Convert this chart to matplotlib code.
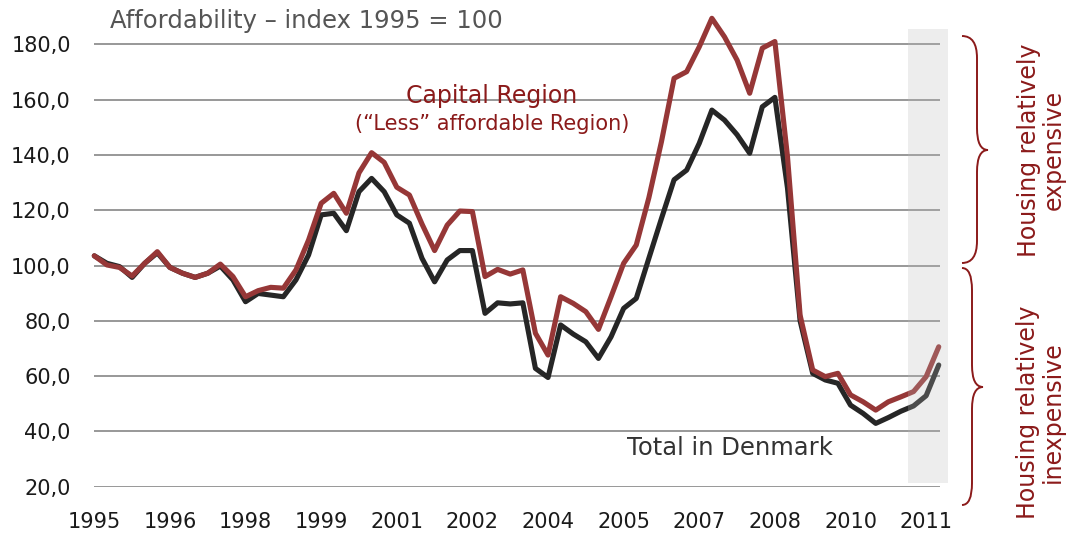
import numpy as np
import matplotlib.pyplot as plt
from matplotlib.path import Path
from matplotlib.patches import PathPatch, Rectangle

# quarterly affordability index, 1995Q1 - 2011Q4 (1995 = 100)
tick_labels = ['1995', '1996', '1998', '1999', '2001', '2002',
               '2004', '2005', '2007', '2008', '2010', '2011']

total_dk = [103.5, 100.8, 99.6, 95.7, 100.8, 104.6, 99.3, 97.2, 95.7, 97.2,
            99.8, 94.8, 86.9, 89.9, 89.3, 88.7, 94.8, 103.8, 118.3, 118.9,
            112.6, 126.7, 131.5, 126.7, 118.3, 115.3, 102.6, 94.1, 102.0, 105.4,
            105.4, 82.7, 86.5, 86.1, 86.5, 62.8, 59.5, 78.5, 75.2, 72.4,
            66.4, 74.2, 84.5, 88.1, 102.6, 117.0, 131.0, 134.5, 144.2, 156.2,
            152.6, 147.3, 140.6, 157.4, 160.8, 128.0, 80.0, 61.0, 58.6, 57.4,
            49.5, 46.5, 42.9, 45.0, 47.3, 49.2, 52.9, 64.0]

capital = [103.5, 100.2, 99.3, 96.2, 100.8, 105.0, 99.3, 97.2, 95.7, 97.2,
           100.5, 96.0, 88.7, 90.9, 92.1, 91.8, 98.4, 109.2, 122.5, 126.1,
           118.9, 133.5, 140.8, 137.3, 128.3, 125.5, 115.0, 105.4, 114.6, 119.7,
           119.5, 96.0, 98.6, 96.9, 98.4, 75.5, 67.6, 88.7, 86.3, 83.3,
           76.9, 88.7, 100.8, 107.4, 124.5, 144.8, 167.7, 170.1, 179.1, 189.4,
           182.7, 174.3, 162.3, 178.6, 181.0, 139.3, 82.0, 62.2, 59.8, 61.0,
           53.2, 50.7, 47.7, 50.7, 52.5, 54.4, 59.8, 70.6]

y_ticks = [20, 40, 60, 80, 100, 120, 140, 160, 180]

W, H = 1067, 533
red = '#963737'
darkred = '#8b1a1a'

fig = plt.figure(figsize=(W / 100, H / 100), dpi=100)
ax = fig.add_axes([94.3 / W, (H - 486.7) / H, 845.7 / W, (486.7 - 16.65) / H])

x = np.arange(len(total_dk))
ax.plot(x, total_dk, color='#262626', lw=3.7, solid_joinstyle='round',
        solid_capstyle='round', clip_on=False, zorder=3)
ax.plot(x, capital, color=red, lw=3.7, solid_joinstyle='round',
        solid_capstyle='round', clip_on=False, zorder=4)

# shaded forecast period, drawn over the lines
ax.add_patch(Rectangle((64.6, 21.2), 3.15, 164.3, facecolor='#bbbbbb',
                       edgecolor='none', alpha=0.25, zorder=5, clip_on=False))

ax.set_xlim(0, 67.1)
ax.set_ylim(20, 190)
ax.set_yticks(y_ticks)
ax.set_yticklabels([f'{v},0' for v in y_ticks])
ax.set_xticks(x[::6])
ax.set_xticklabels(tick_labels)
ax.yaxis.grid(True, color='#909090', lw=1.3)
ax.set_axisbelow(True)
for s in ax.spines.values():
    s.set_visible(False)
ax.tick_params(axis='both', length=0, labelsize=15, colors='#1a1a1a')
ax.tick_params(axis='y', pad=17)
ax.tick_params(axis='x', pad=18)

# overlay in pixel coordinates for text and braces
ov = fig.add_axes([0, 0, 1, 1])
ov.set_xlim(0, W)
ov.set_ylim(H, 0)
ov.axis('off')
ov.patch.set_alpha(0)

ov.text(110, 21, 'Affordability \u2013 index 1995 = 100', fontsize=17.5,
        color='#555555', ha='left', va='center')
ov.text(492, 96, 'Capital Region', fontsize=17, color=darkred,
        ha='center', va='center')
ov.text(492, 124, '(\u201cLess\u201d affordable Region)', fontsize=15,
        color=darkred, ha='center', va='center')
ov.text(730, 448, 'Total in Denmark', fontsize=17.5, color='#333333',
        ha='center', va='center')


def brace(x0, x1, x2, yt, ym, yb, r=22):
    verts = [(x0, yt), (x1, yt), (x1, yt + r),
             (x1, ym - r), (x1, ym), (x2, ym),
             (x1, ym), (x1, ym + r),
             (x1, yb - r), (x1, yb), (x0, yb)]
    codes = [Path.MOVETO, Path.CURVE3, Path.CURVE3,
             Path.LINETO, Path.CURVE3, Path.CURVE3,
             Path.CURVE3, Path.CURVE3,
             Path.LINETO, Path.CURVE3, Path.CURVE3]
    ov.add_patch(PathPatch(Path(verts, codes), facecolor='none',
                           edgecolor=darkred, lw=1.4))


brace(962, 977, 988, 36, 150, 263)
brace(962, 972, 983, 268, 387, 505)

ov.text(1041, 150, 'Housing relatively\nexpensive', rotation=90, fontsize=17,
        color=darkred, ha='center', va='center', multialignment='center',
        linespacing=1.05)
ov.text(1040, 412, 'Housing relatively\ninexpensive', rotation=90, fontsize=17,
        color=darkred, ha='center', va='center', multialignment='center',
        linespacing=1.05)

fig.savefig('out.png', dpi=100)
